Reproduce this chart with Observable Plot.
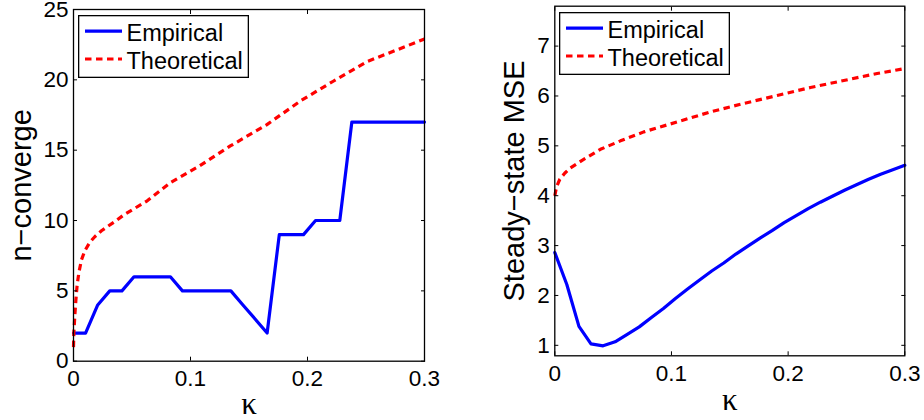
<!DOCTYPE html>
<html><head><meta charset="utf-8">
<script src="https://cdn.jsdelivr.net/npm/d3@7"></script>
<script src="https://cdn.jsdelivr.net/npm/@observablehq/plot@0.6"></script>
<style>
body{margin:0;background:#fff;}
#wrap{position:relative;width:924px;height:420px;overflow:hidden;background:#fff;font-family:"Liberation Sans",Arial,sans-serif;}
.panel{position:absolute;top:0;}
.legend{position:absolute;}
</style></head><body><div id="wrap"></div>
<script>
// ---- data ----
const kappaGrid = [0, 0.0103, 0.0207, 0.0310, 0.0414, 0.0517, 0.0621, 0.0724, 0.0828, 0.0931,
  0.1034, 0.1138, 0.1241, 0.1345, 0.1448, 0.1552, 0.1655, 0.1759, 0.1862, 0.1966,
  0.2069, 0.2172, 0.2276, 0.2379, 0.2483, 0.2586, 0.2690, 0.2793, 0.2897, 0.3];
const nEmpirical = [2, 2, 4, 5, 5, 6, 6, 6, 6, 5,
  5, 5, 5, 5, 4, 3, 2, 9, 9, 9,
  10, 10, 10, 17, 17, 17, 17, 17, 17, 17];
const nTheoKappa = [0, 0.0003, 0.0011, 0.002, 0.0031, 0.0046, 0.0068, 0.0097, 0.0139, 0.0182,
  0.0239, 0.0296, 0.0367, 0.043, 0.063, 0.083, 0.108, 0.134, 0.165, 0.194, 0.222, 0.251, 0.3];
const nTheoretical = [1.0, 2.0, 3.2, 4.3, 5.4, 6.3, 7.2, 7.85, 8.45, 8.85,
  9.27, 9.6, 10.0, 10.4, 11.4, 12.7, 13.9, 15.3, 16.8, 18.5, 19.9, 21.3, 22.9];
const mseEmpirical = [2.86, 2.22, 1.38, 1.03, 0.99, 1.07, 1.22, 1.37, 1.56, 1.74,
  1.94, 2.13, 2.31, 2.49, 2.65, 2.83, 2.99, 3.15, 3.30, 3.46,
  3.60, 3.74, 3.87, 3.99, 4.11, 4.22, 4.33, 4.43, 4.52, 4.61];
const mseTheoKappa = [0, 0.0015, 0.0043, 0.0085, 0.0129, 0.0234, 0.0334, 0.0391, 0.0563, 0.0763,
  0.1049, 0.1334, 0.162, 0.1906, 0.2191, 0.2477, 0.2763, 0.3];
const mseTheoretical = [4.0, 4.18, 4.33, 4.45, 4.55, 4.71, 4.85, 4.93, 5.10, 5.28,
  5.48, 5.68, 5.85, 6.01, 6.17, 6.31, 6.45, 6.55];
const xTicks = [0, 0.1, 0.2, 0.3];
const yTicksLeft = [0, 5, 10, 15, 20, 25];
const yTicksRight = [1, 2, 3, 4, 5, 6, 7];
const seriesNames = ["Empirical", "Theoretical"];
const xLabel = "κ";
const yLabelLeft = "n−converge";
const yLabelRight = "Steady−state MSE";

const BLUE = "#0000ff", RED = "#ff0000";
const SANS = "'Liberation Sans', Arial, Helvetica, sans-serif";

function panel(o) {
  const empData = kappaGrid.map((k, i) => ({k, v: o.emp[i]}));
  const theoData = o.theoK.map((k, i) => ({k, v: o.theo[i]}));
  return Plot.plot({
    width: 462, height: 420,
    marginLeft: o.ml, marginRight: o.mr, marginTop: o.mt, marginBottom: o.mb,
    style: {fontFamily: SANS, fontSize: "22px", background: "transparent", color: "#000", overflow: "visible"},
    x: {domain: [0, 0.3]},
    y: {domain: o.yDomain},
    marks: [
      Plot.line(empData, {x: "k", y: "v", stroke: BLUE, strokeWidth: 3.2, strokeLinejoin: "round"}),
      Plot.line(theoData, {x: "k", y: "v", stroke: RED, strokeWidth: 3.2, strokeDasharray: "6.5,4.5", strokeLinecap: "butt"}),
      Plot.axisX(xTicks, {anchor: "bottom", tickSize: -4, tickPadding: 13, fontSize: 22.5, label: null, tickFormat: d => String(d)}),
      Plot.axisX(xTicks, {anchor: "top", tickSize: -4, label: null, tickFormat: () => ""}),
      Plot.axisY(o.yTicks, {anchor: "left", tickSize: -4, tickPadding: 9, fontSize: 22.5, label: null, tickFormat: d => String(d)}),
      Plot.axisY(o.yTicks, {anchor: "right", tickSize: -4, label: null, tickFormat: () => ""}),
      Plot.frame({stroke: "#000", strokeWidth: 1.3}),
      Plot.text([xLabel], {text: d => d, frameAnchor: "bottom", textAnchor: "middle", dy: o.kdy, fontSize: 31, fontFamily: "'Liberation Serif', 'DejaVu Serif', serif", lineAnchor: "middle"}),
      Plot.text([o.yLabel], {text: d => d, frameAnchor: "left", textAnchor: "middle", rotate: -90, dx: o.ldx, fontSize: 29, lineAnchor: "middle"})
    ]
  });
}

function legend(left, top) {
  const w = 171, h = 63;
  const svg = d3.create("svg").attr("width", w).attr("height", h).attr("class", "legend")
    .style("left", left + "px").style("top", top + "px");
  svg.append("rect").attr("x", 0.65).attr("y", 0.65).attr("width", w - 1.3).attr("height", h - 1.3)
    .attr("fill", "#fff").attr("stroke", "#000").attr("stroke-width", 1.3);
  const rows = [
    {name: seriesNames[0], color: BLUE, dash: null, y: 16.2},
    {name: seriesNames[1], color: RED, dash: "6.5,4.5", y: 44}
  ];
  for (const r of rows) {
    svg.append("line").attr("x1", 7).attr("x2", 44).attr("y1", r.y).attr("y2", r.y)
      .attr("stroke", r.color).attr("stroke-width", 3.2).attr("stroke-dasharray", r.dash);
    svg.append("text").attr("x", 48.5).attr("y", r.y + 10.2).attr("font-family", SANS)
      .attr("font-size", 23.5).attr("fill", "#000").text(r.name);
  }
  return svg.node();
}

const wrap = document.getElementById("wrap");
const left = panel({yDomain: [0, 25], yTicks: yTicksLeft, ml: 73, mr: 38, mt: 9, mb: 59.3,
  emp: nEmpirical, theoK: nTheoKappa, theo: nTheoretical, yLabel: yLabelLeft, ldx: -52, kdy: 43});
left.classList.add("panel"); left.style.left = "0px";
const right = panel({yDomain: [0.79, 7.8], yTicks: yTicksRight, ml: 92.3, mr: 19.7, mt: 5.7, mb: 64.7,
  emp: mseEmpirical, theoK: mseTheoKappa, theo: mseTheoretical, yLabel: yLabelRight, ldx: -40.5, kdy: 44});
right.classList.add("panel"); right.style.left = "462px";
wrap.appendChild(left);
wrap.appendChild(right);
wrap.appendChild(legend(78.3, 14.8));
wrap.appendChild(legend(559.3, 12.3));
</script></body></html>
